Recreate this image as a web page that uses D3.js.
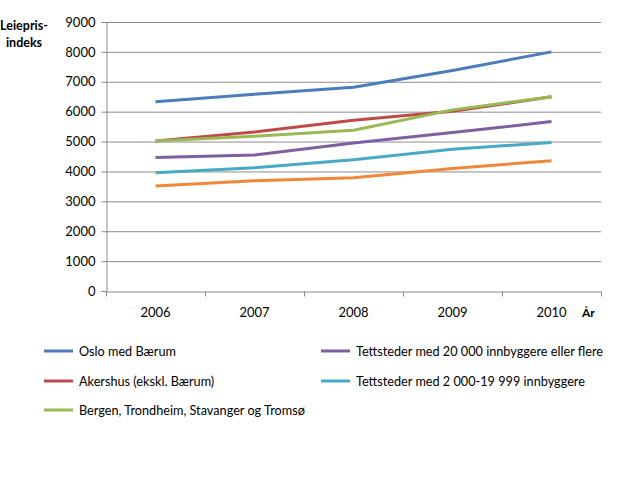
<!DOCTYPE html>
<html>
<head>
<meta charset="utf-8">
<script src="https://cdn.jsdelivr.net/npm/d3@7"></script>
<style>
  body { margin: 0; background: #fff; }
  svg text { font-family: Lato, "Open Sans", sans-serif; fill: #000; }
</style>
</head>
<body>
<svg id="chart" width="620" height="485"></svg>
<script>
/* ── Data ─────────────────────────────────────────────── */
const years = ["2006", "2007", "2008", "2009", "2010"];
const yTicks = [0, 1000, 2000, 3000, 4000, 5000, 6000, 7000, 8000, 9000];

const seriesNames = [
  "Oslo med Bærum",
  "Akershus (ekskl. Bærum)",
  "Bergen, Trondheim, Stavanger og Tromsø",
  "Tettsteder med 20 000 innbyggere eller flere",
  "Tettsteder med 2 000-19 999 innbyggere",
  null                                   /* no legend entry in source */
];
const oslo      = [6330, 6580, 6820, 7380, 8000];
const akershus  = [5020, 5320, 5710, 6010, 6500];
const bergen    = [5020, 5180, 5380, 6060, 6500];
const tett20k   = [4470, 4550, 4950, 5300, 5670];
const tett2k    = [3960, 4120, 4390, 4740, 4970];
const other     = [3510, 3690, 3790, 4100, 4360];
const seriesValues = [oslo, akershus, bergen, tett20k, tett2k, other];
const colors = ["#4A7EBB", "#BE4B48", "#98B954", "#7D60A0", "#46AAC5", "#F0883A"];

(function () {
  /* ── Layout ─────────────────────────────────────────── */
  const svg = d3.select("#chart");
  const mLeft = 106, mRight = 601, mTop = 22, mBottom = 291;

  const x = d3.scaleBand().domain(years).range([mLeft, mRight]);
  const y = d3.scaleLinear().domain([0, 9000]).range([mBottom, mTop]);

  /* Gridlines */
  svg.append("g")
    .selectAll("line")
    .data(yTicks.filter(d => d > 0))
    .join("line")
    .attr("x1", mLeft).attr("x2", mRight)
    .attr("y1", d => y(d) + 0.5).attr("y2", d => y(d) + 0.5)
    .attr("stroke", "#8c8c8c").attr("stroke-width", 1);

  /* Y axis */
  const yAxis = svg.append("g")
    .attr("transform", `translate(${mLeft + 0.5},0)`)
    .call(d3.axisLeft(y).tickValues(yTicks).tickSize(5).tickPadding(6).tickFormat(d3.format("d")));
  yAxis.select(".domain").attr("stroke", "#8c8c8c");
  yAxis.selectAll(".tick line").attr("stroke", "#8c8c8c");
  yAxis.selectAll("text").style("font-size", "13px");

  /* X axis */
  const xAxis = svg.append("g")
    .attr("transform", `translate(0,${mBottom + 0.5})`)
    .call(d3.axisBottom(x).tickSize(0).tickPadding(16));
  xAxis.select(".domain").attr("stroke", "#8c8c8c");
  xAxis.selectAll("text").style("font-size", "13px");
  /* Category boundary ticks */
  xAxis.selectAll(".bnd")
    .data(years.map(d => x(d)).concat([mRight]))
    .join("line")
    .attr("class", "bnd")
    .attr("x1", d => d + 0.5).attr("x2", d => d + 0.5)
    .attr("y1", 0).attr("y2", 5)
    .attr("stroke", "#8c8c8c");

  /* Axis titles */
  svg.append("text").attr("x", 24).attr("y", 30).attr("text-anchor", "middle")
    .style("font-size", "12.5px").style("font-weight", "bold").text("Leiepris-");
  svg.append("text").attr("x", 24).attr("y", 47).attr("text-anchor", "middle")
    .style("font-size", "12.5px").style("font-weight", "bold").text("indeks");
  svg.append("text").attr("x", 582).attr("y", 317)
    .style("font-size", "12px").style("font-weight", "bold").text("År");

  /* Lines */
  const line = d3.line()
    .x((d, i) => x(years[i]) + x.bandwidth() / 2)
    .y(d => y(d));

  svg.append("g")
    .selectAll("path")
    .data(seriesValues)
    .join("path")
    .attr("d", line)
    .attr("fill", "none")
    .attr("stroke", (d, i) => colors[i])
    .attr("stroke-width", 3)
    .attr("stroke-linejoin", "round");

  /* Legend */
  const legendPos = [[44, 351], [44, 381], [44, 410], [321, 351], [321, 381]];
  const lg = svg.append("g");
  seriesNames.forEach((name, i) => {
    if (!name) return;
    const [lx, ly] = legendPos[i];
    lg.append("line")
      .attr("x1", lx).attr("x2", lx + 29)
      .attr("y1", ly).attr("y2", ly)
      .attr("stroke", colors[i]).attr("stroke-width", 3);
    lg.append("text")
      .attr("x", lx + 35).attr("y", ly + 4.5)
      .style("font-size", "12.7px")
      .text(name);
  });
})();
</script>
</body>
</html>
